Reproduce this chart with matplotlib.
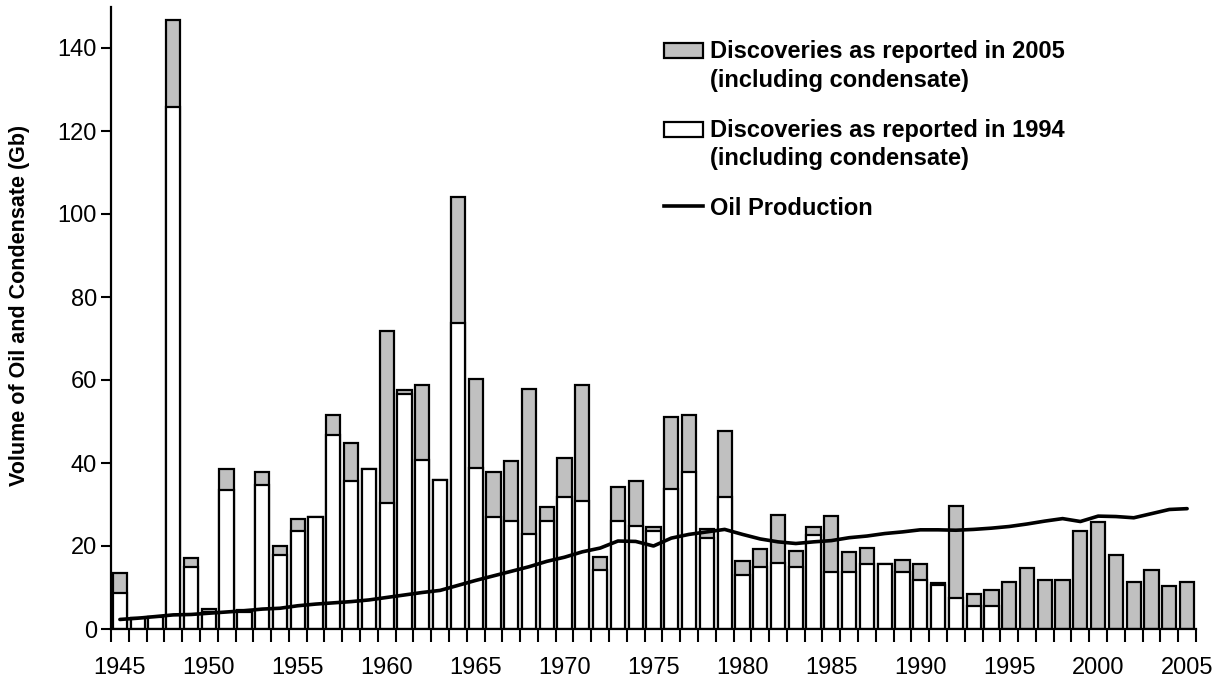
import matplotlib
matplotlib.use("Agg")
import matplotlib.pyplot as plt
from matplotlib.patches import Rectangle
from matplotlib.lines import Line2D
import numpy as np

plt.rcParams['font.family'] = ['Liberation Sans', 'DejaVu Sans']

years = list(range(1945, 2006))

disc_2005 = [13.4, 2.7, 3.0, 146.8, 17.2, 4.8, 38.5, 4.6, 37.9, 20.1,
             26.4, 26.9, 51.5, 44.7, 38.5, 71.8, 57.5, 58.8, 36.0, 104.2,
             60.2, 37.9, 40.5, 57.9, 29.5, 41.1, 58.9, 17.3, 34.2, 35.6,
             24.6, 51.1, 51.5, 24.0, 47.8, 16.3, 19.3, 27.5, 18.7, 24.6,
             27.3, 18.6, 19.6, 15.7, 16.7, 15.7, 11.1, 29.7, 8.5, 9.5,
             11.4, 14.8, 11.9, 11.9, 23.5, 25.9, 17.8, 11.4, 14.3, 10.4,
             11.4]

disc_1994 = [8.6, 2.7, 3.0, 125.9, 14.9, 4.1, 33.6, 4.0, 34.7, 17.8,
             23.5, 26.9, 46.7, 35.7, 38.5, 30.3, 56.7, 40.8, 36.0, 73.7,
             38.9, 27.1, 26.0, 22.8, 26.0, 31.8, 30.9, 14.1, 26.0, 24.8,
             23.6, 33.7, 37.9, 22.0, 31.8, 13.0, 14.9, 15.9, 14.9, 22.6,
             13.7, 13.7, 15.7, 15.7, 13.7, 11.9, 10.6, 7.5, 5.5, 5.5,
             0, 0, 0, 0, 0, 0, 0, 0, 0, 0,
             0]

production = [2.3, 2.6, 3.0, 3.4, 3.5, 3.8, 4.1, 4.4, 4.8, 5.0,
              5.6, 6.0, 6.3, 6.6, 7.0, 7.6, 8.2, 8.8, 9.3, 10.5,
              11.7, 12.8, 13.9, 15.0, 16.3, 17.3, 18.6, 19.5, 21.2, 21.1,
              20.0, 21.9, 22.8, 23.4, 24.0, 22.8, 21.7, 21.0, 20.6, 21.0,
              21.3, 22.0, 22.4, 23.0, 23.4, 23.9, 23.9, 23.8, 24.0, 24.3,
              24.7, 25.3, 26.0, 26.6, 25.9, 27.2, 27.1, 26.8, 27.8, 28.8,
              29.0]

xtick_years = [1945, 1950, 1955, 1960, 1965, 1970, 1975, 1980, 1985, 1990,
               1995, 2000, 2005]
ytick_vals = [0, 20, 40, 60, 80, 100, 120, 140]

label_2005 = ["Discoveries as reported in 2005", "(including condensate)"]
label_1994 = ["Discoveries as reported in 1994", "(including condensate)"]
label_prod = "Oil Production"
ylabel = "Volume of Oil and Condensate (Gb)"

GRAY = "#c0c0c0"

fig = plt.figure(figsize=(12.32, 6.8), dpi=100)
ax = fig.add_axes([111 / 1232, 51 / 680, 1085 / 1232, 622.5 / 680])

x = np.array(years)
ax.bar(x, disc_2005, width=0.8, color=GRAY, edgecolor="black", linewidth=1.6, zorder=2)
w_years = [y for y, v in zip(years, disc_1994) if v > 0]
w_vals = [v for v in disc_1994 if v > 0]
ax.bar(w_years, w_vals, width=0.8, color="white", edgecolor="black", linewidth=1.6, zorder=3)
ax.plot(x, production, color="black", linewidth=2.6, zorder=4, solid_capstyle="round")

ax.set_xlim(1944.5, 2005.5)
ax.set_ylim(0, 150)

ax.set_xticks(xtick_years)
ax.set_xticklabels([str(v) for v in xtick_years], fontsize=17)
ax.set_xticks(np.arange(1944.5, 2006, 1.0), minor=True)
ax.tick_params(axis="x", which="major", length=0, pad=20)
ax.tick_params(axis="x", which="minor", length=9, width=1.5, direction="out")

ax.set_yticks(ytick_vals)
ax.set_yticklabels([str(v) for v in ytick_vals], fontsize=17)
ax.tick_params(axis="y", which="major", length=7, width=1.5, direction="out", pad=3)

for s in ["top", "right"]:
    ax.spines[s].set_visible(False)
for s in ["left", "bottom"]:
    ax.spines[s].set_linewidth(1.6)
ax.spines["bottom"].set_zorder(5)

ax.set_ylabel(ylabel, fontsize=15.5, fontweight="bold")
ax.yaxis.set_label_coords(-0.075, 0.52)

def fy(ypix):
    return (629 - ypix) / 622.5

def fx(xpix):
    return (xpix - 111) / 1085

# manual legend
ax.add_patch(Rectangle((fx(664), fy(58.3)), fx(703) - fx(664), fy(42.7) - fy(58.3),
                       transform=ax.transAxes, facecolor=GRAY, edgecolor="black",
                       linewidth=1.6, clip_on=False, zorder=6))
ax.add_patch(Rectangle((fx(664), fy(136.7)), fx(703) - fx(664), fy(121.7) - fy(136.7),
                       transform=ax.transAxes, facecolor="white", edgecolor="black",
                       linewidth=1.6, clip_on=False, zorder=6))
ax.add_line(Line2D([fx(664), fx(703)], [fy(206), fy(206)], transform=ax.transAxes,
                   color="black", linewidth=2.6, clip_on=False, zorder=6))

tx = fx(710)
for txt, yb in zip(label_2005, [58.3, 87.5]):
    ax.text(tx, fy(yb), txt, transform=ax.transAxes, fontsize=17, fontweight="bold",
            va="baseline", ha="left")
for txt, yb in zip(label_1994, [136.7, 165.5]):
    ax.text(tx, fy(yb), txt, transform=ax.transAxes, fontsize=17, fontweight="bold",
            va="baseline", ha="left")
ax.text(tx, fy(215), label_prod, transform=ax.transAxes, fontsize=17, fontweight="bold",
        va="baseline", ha="left")

fig.savefig("out.png", dpi=100)
